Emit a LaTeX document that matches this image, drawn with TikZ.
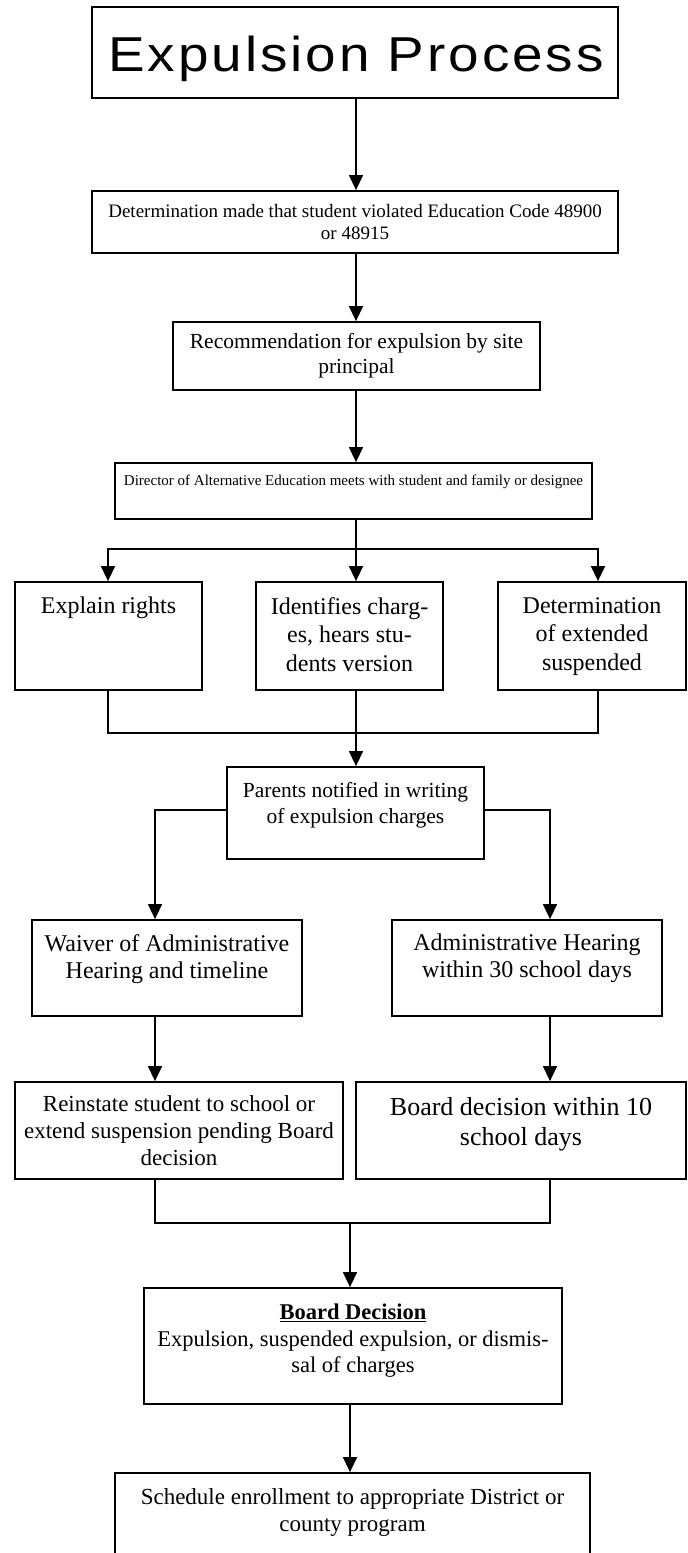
\documentclass[tikz,border=0pt]{standalone}
\usepackage{fontspec}
\setmainfont{Liberation Serif}
\newfontfamily\titlefont[LetterSpace=6,FakeStretch=1.12]{Liberation Sans}
\usetikzlibrary{arrows.meta,calc}
\tikzset{
  box/.style={draw, line width=1.8pt, inner sep=0pt, rectangle, align=center},
  txt/.style={inner sep=0pt, align=center, anchor=north},
  conn/.style={line width=1.4pt},
  arr/.style={conn, -{Triangle[width=14pt,length=15pt]}},
}
\newcommand{\fs}[2]{\fontsize{#1}{#2}\selectfont}
\begin{document}
\begin{tikzpicture}[x=1pt,y=-1pt]
\useasboundingbox (0,0) rectangle (688,1553);
% boxes
\node[box, minimum width=526pt, minimum height=91pt] (title) at (355,52.5) {};
\node[inner sep=0pt, anchor=base] (ttitle) at (356,71) {\titlefont\fs{49}{55}Expulsion Process};
\node[box, minimum width=526pt, minimum height=62pt, font=\fs{19}{22}] (det) at (355,222)
  {Determination made that student violated Education Code 48900\\ or 48915};
\node[box, minimum width=367pt, minimum height=68pt, font=\fs{21.5}{25}] (rec) at (356.5,356)
  {Recommendation for expulsion by site\\ principal};
\node[box, minimum width=477pt, minimum height=56pt] (dir) at (353.5,491) {};
\node[txt, font=\fs{15}{18}] (tdir) at (353.5,475)
  {Director of Alternative Education meets with student and family or designee};
\node[box, minimum width=187pt, minimum height=108pt] (left) at (108.5,636) {};
\node[box, minimum width=187pt, minimum height=108pt] (mid) at (349.5,636) {};
\node[box, minimum width=188pt, minimum height=108pt] (right) at (592,636) {};
\node[txt, font=\fs{24}{28.5}] (tleft) at (108.5,597) {Explain rights};
\node[txt, font=\fs{24}{28.5}] (tmid) at (349.5,597) {Identifies charg-\\es, hears stu-\\dents version};
\node[txt, font=\fs{24}{28.5}] (tright) at (592,597) {Determination\\of extended\\suspended};
\node[box, minimum width=257pt, minimum height=92pt] (parents) at (355.5,813) {};
\node[txt, font=\fs{21.5}{26}] (tparents) at (355.5,782) {Parents notified in writing\\of expulsion charges};
\node[box, minimum width=270pt, minimum height=96pt] (waiver) at (167,968) {};
\node[box, minimum width=270pt, minimum height=96pt] (admin) at (527,968) {};
\node[txt, font=\fs{24}{27}] (twaiver) at (167,934) {Waiver of Administrative\\Hearing and timeline};
\node[txt, font=\fs{24}{27}] (tadmin) at (527,934) {Administrative Hearing\\within 30 school days};
\node[box, minimum width=328pt, minimum height=97pt, font=\fs{23}{27}] (reinst) at (179,1130.5)
  {Reinstate student to school or\\extend suspension pending Board\\decision};
\node[box, minimum width=330pt, minimum height=97pt] (board10) at (521,1130.5) {};
\node[txt, font=\fs{26}{30}] (tboard10) at (521,1097) {Board decision within 10\\school days};
\node[box, minimum width=418pt, minimum height=116pt] (bdec) at (353,1346) {};
\node[txt, font=\fs{22.5}{26.5}] (tbdec) at (353,1304)
  {\underline{\textbf{Board Decision}}\\Expulsion, suspended expulsion, or dismis-\\sal of charges};
\node[box, minimum width=475pt, minimum height=110pt] (sched) at (352.5,1528) {};
\node[txt, font=\fs{23}{27}] (tsched) at (352.5,1488) {Schedule enrollment to appropriate District or\\county program};
% coordinates
\coordinate (cx) at (356,0);
\coordinate (s) at (356,549);
\coordinate (sl) at (108,549);
\coordinate (sr) at (598,549);
\coordinate (m) at (356,733);
\coordinate (ml) at (108,733);
\coordinate (mr) at (598,733);
\coordinate (pl) at (155,810);
\coordinate (pr) at (550,810);
\coordinate (q) at (350,1223);
\coordinate (ql) at (155,1223);
\coordinate (qr) at (550,1223);
% connectors
\draw[arr] (title.south -| cx) -- (det.north -| cx);
\draw[arr] (det.south -| cx) -- (rec.north -| cx);
\draw[arr] (rec.south -| cx) -- (dir.north -| cx);
\draw[conn] (dir.south -| s) -- (s);
\draw[arr] (s) -| (left.north -| sl);
\draw[arr] (s) -| (right.north -| sr);
\draw[arr] (s) -- (mid.north -| s);
\draw[conn] (left.south -| ml) |- (m);
\draw[conn] (right.south -| mr) |- (m);
\draw[arr] (mid.south -| m) -- (parents.north -| m);
\draw[arr] (parents.west |- pl) -| (waiver.north -| pl);
\draw[arr] (parents.east |- pr) -| (admin.north -| pr);
\draw[arr] (waiver.south -| pl) -- (reinst.north -| pl);
\draw[arr] (admin.south -| pr) -- (board10.north -| pr);
\draw[conn] (reinst.south -| ql) |- (qr) -- (board10.south -| qr);
\draw[arr] (q) -- (bdec.north -| q);
\draw[arr] (bdec.south -| q) -- (sched.north -| q);
\end{tikzpicture}
\end{document}
